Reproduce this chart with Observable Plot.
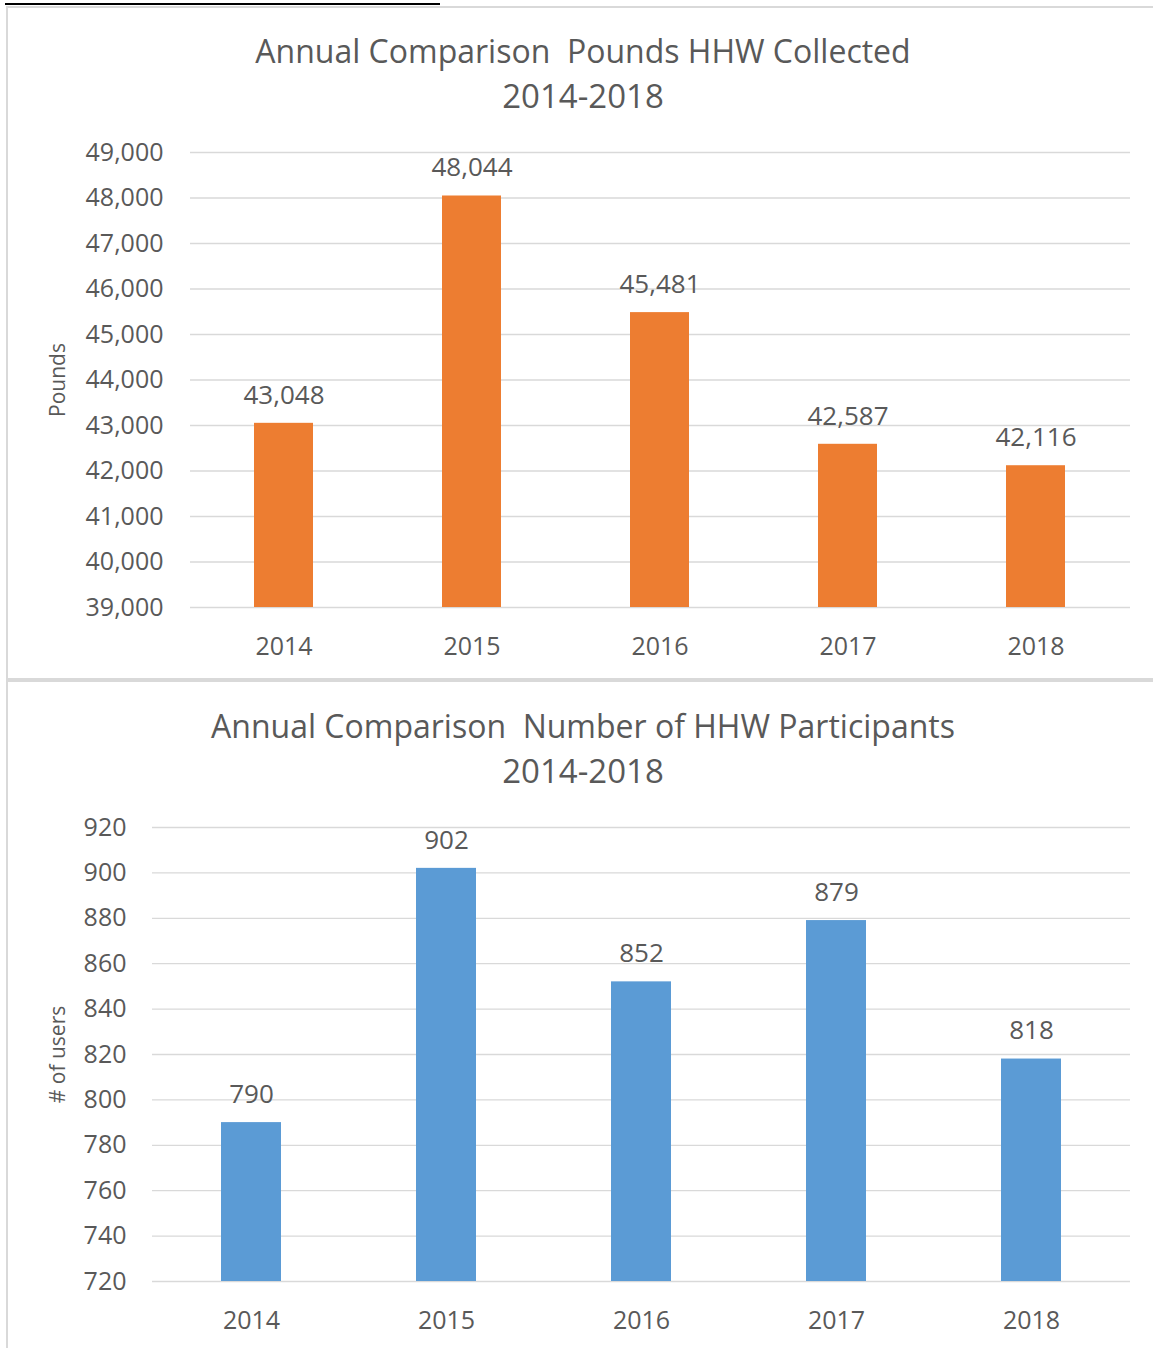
<!DOCTYPE html>
<html>
<head>
<meta charset="utf-8">
<script src="https://cdn.jsdelivr.net/npm/d3@7"></script>
<script src="https://cdn.jsdelivr.net/npm/@observablehq/plot@0.6"></script>
<style>
  html, body { margin: 0; padding: 0; background: #fff; }
  #page { position: relative; width: 1153px; height: 1348px; overflow: hidden; background: #fff; font-family: "Open Sans", sans-serif; color: #595959; }
  .title { position: absolute; left: 7px; width: 1152px; text-align: center; font-size: 32px; line-height: 45px; white-space: pre; color: #595959; }
  .title .l2 { font-size: 33px; }
  .chart { position: absolute; left: 0; }
  .rule { position: absolute; background: #d9d9d9; }
</style>
</head>
<body>
<div id="page">
  <div class="rule" style="left:5px;top:3px;width:435px;height:2px;background:#000;"></div>
  <div class="rule" style="left:7px;top:6px;width:1146px;height:2px;"></div>
  <div class="rule" style="left:6px;top:6px;width:2px;height:1342px;"></div>
  <div class="rule" style="left:7px;top:678px;width:1146px;height:4px;"></div>
  <div class="title" style="top:28px;">Annual Comparison  Pounds HHW Collected
<span class="l2">2014-2018</span></div>
  <div class="title" style="top:703px;">Annual Comparison  Number of HHW Participants
<span class="l2">2014-2018</span></div>
  <div id="c1" class="chart" style="top:130px;"></div>
  <div id="c2" class="chart" style="top:800px;"></div>
</div>
<script>
const years = ["2014", "2015", "2016", "2017", "2018"];
const pounds = [43048, 48044, 45481, 42587, 42116];
const participants = [790, 902, 852, 879, 818];
const poundTicks = [39000, 40000, 41000, 42000, 43000, 44000, 45000, 46000, 47000, 48000, 49000];
const userTicks = [720, 740, 760, 780, 800, 820, 840, 860, 880, 900, 920];

const textColor = "#595959";
const fmt = d3.format(",");

function makeChart({values, ticks, color, yLabel, marginLeft, marginTop, height, labelDx, tickPad, padInner}) {
  const data = years.map((y, i) => ({year: y, value: values[i]}));
  const lo = ticks[0], hi = ticks[ticks.length - 1];
  return Plot.plot({
    width: 1153,
    height,
    marginLeft,
    marginRight: 23,
    marginTop,
    marginBottom: 60,
    style: {fontFamily: "Open Sans, sans-serif", color: textColor, background: "transparent", overflow: "visible"},
    x: {domain: years, paddingInner: padInner, paddingOuter: padInner / 2, label: null},
    y: {domain: [lo, hi], label: null},
    marks: [
      Plot.gridY(ticks, {stroke: "#d9d9d9", strokeOpacity: 1, strokeWidth: 1.3}),
      Plot.barY(data, {x: "year", y1: lo, y2: "value", fill: color}),
      Plot.text(data, {x: "year", y: "value", text: d => fmt(d.value), dy: -28, fontSize: 26, fill: textColor}),
      Plot.axisY({ticks, tickFormat: fmt, tickSize: 0, tickPadding: tickPad, fontSize: 25, fill: textColor, label: null}),
      Plot.axisX({tickSize: 0, tickPadding: 30, fontSize: 25, fill: textColor, label: null}),
      Plot.text([yLabel], {frameAnchor: "left", textAnchor: "middle", rotate: -90, dx: labelDx, fontSize: 21, fill: textColor})
    ]
  });
}

document.getElementById("c1").appendChild(makeChart({
  values: pounds, ticks: poundTicks, color: "#ED7D31", yLabel: "Pounds",
  marginLeft: 190, marginTop: 22, height: 537, labelDx: -132, tickPad: 27, padInner: 0.686
}));
document.getElementById("c2").appendChild(makeChart({
  values: participants, ticks: userTicks, color: "#5B9BD5", yLabel: "# of users",
  marginLeft: 152, marginTop: 27, height: 541, labelDx: -94, tickPad: 26, padInner: 0.69
}));
</script>
</body>
</html>
